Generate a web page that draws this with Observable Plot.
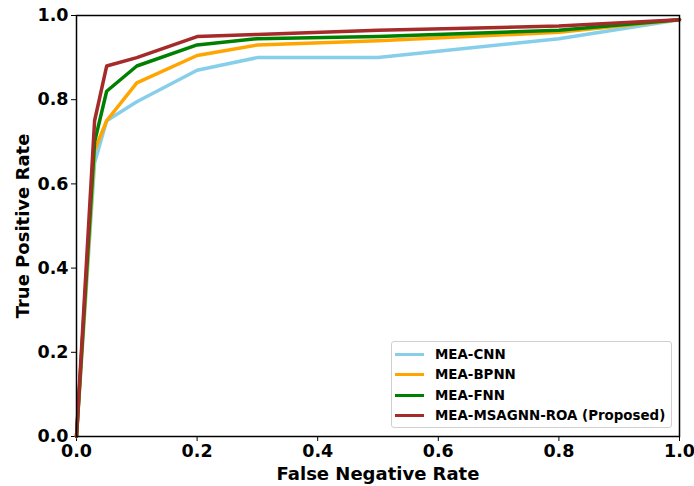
<!DOCTYPE html>
<html>
<head>
<meta charset="utf-8">
<script src="https://cdn.jsdelivr.net/npm/d3@7"></script>
<script src="https://cdn.jsdelivr.net/npm/@observablehq/plot@0.6"></script>
<style>
  html, body { margin: 0; padding: 0; background: #fff; }
  #wrap { position: relative; width: 694px; height: 486px; }
  #legend {
    position: absolute; left: 391px; top: 341px; width: 281px; height: 87px;
    border: 1px solid #d0d0d0; border-radius: 3px; background: rgba(255,255,255,0.8);
    font-family: "DejaVu Sans", sans-serif; font-weight: bold; font-size: 13.4px;
    box-sizing: border-box;
  }
  .item { position: absolute; left: 3px; height: 20px; display: flex; align-items: center; }
  .sw { width: 29px; height: 3px; margin-right: 11px; }
</style>
</head>
<body>
<div id="wrap"></div>
<script>
const fpr  = [0, 0.03, 0.05, 0.1, 0.2, 0.3, 0.5, 0.8, 1.0];
const cnn  = [0, 0.65, 0.75, 0.795, 0.87, 0.90, 0.90, 0.945, 0.99];
const bpnn = [0, 0.68, 0.75, 0.84, 0.905, 0.93, 0.94, 0.96, 0.99];
const fnn  = [0, 0.70, 0.82, 0.88, 0.93, 0.945, 0.95, 0.965, 0.99];
const msa  = [0, 0.75, 0.88, 0.90, 0.95, 0.955, 0.965, 0.975, 0.99];
const seriesNames = ["MEA-CNN", "MEA-BPNN", "MEA-FNN", "MEA-MSAGNN-ROA (Proposed)"];
const seriesColors = ["#87CEEB", "#FFA500", "#008000", "#A52A2A"];
const ticks = [0, 0.2, 0.4, 0.6, 0.8, 1.0];

const allSeries = [cnn, bpnn, fnn, msa];
const rows = [];
allSeries.forEach((vals, i) => vals.forEach((v, j) => rows.push({series: seriesNames[i], x: fpr[j], y: v})));

const chart = Plot.plot({
  width: 694, height: 486,
  marginLeft: 76, marginRight: 15, marginTop: 15, marginBottom: 50,
  style: { fontFamily: "DejaVu Sans, sans-serif", fontSize: "17px", fontWeight: "bold", color: "black", background: "white" },
  x: { domain: [0, 1] },
  y: { domain: [0, 1] },
  color: { domain: seriesNames, range: seriesColors },
  marks: [
    Plot.axisX({ ticks, tickFormat: d3.format(".1f"), tickSize: 5, tickPadding: 3, fontSize: 17.5, fontWeight: "bold", label: null }),
    Plot.axisX({ ticks: [], tickSize: 0, label: "False Negative Rate", labelAnchor: "center", labelArrow: "none", labelOffset: 43, fontSize: 18, fontWeight: "bold" }),
    Plot.axisY({ ticks, tickFormat: d3.format(".1f"), tickSize: 5, tickPadding: 3, fontSize: 17.5, fontWeight: "bold", label: null }),
    Plot.axisY({ ticks: [], tickSize: 0, label: "True Positive Rate", labelAnchor: "center", labelArrow: "none", labelOffset: 60, fontSize: 18, fontWeight: "bold" }),
    Plot.line(rows, { x: "x", y: "y", stroke: "series", z: "series", strokeWidth: 3.5 }),
    Plot.frame({ stroke: "black", strokeWidth: 1.5 })
  ]
});
const wrap = document.getElementById("wrap");
wrap.appendChild(chart);

const leg = document.createElement("div");
leg.id = "legend";
seriesNames.forEach((n, i) => {
  const it = document.createElement("div");
  it.className = "item";
  it.style.top = (2 + i * 20.5) + "px";
  const sw = document.createElement("div");
  sw.className = "sw";
  sw.style.background = seriesColors[i];
  const t = document.createElement("span");
  t.textContent = n;
  it.appendChild(sw); it.appendChild(t);
  leg.appendChild(it);
});
wrap.appendChild(leg);
</script>
</body>
</html>
